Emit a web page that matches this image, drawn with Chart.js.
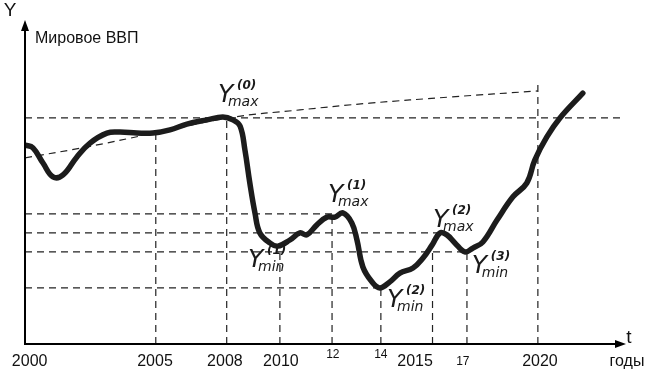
<!DOCTYPE html>
<html>
<head>
<meta charset="utf-8">
<script src="https://cdn.jsdelivr.net/npm/chart.js@4"></script>
<style>
html,body{margin:0;padding:0;background:#fff;}
#wrap{position:relative;width:646px;height:383px;}
</style>
</head>
<body>
<div id="wrap"><canvas id="c"></canvas></div>
<script>
// ---- data (x in years along the drawn time axis, y in relative GDP units 0..100) ----
const curveX = [2000.00,2000.31,2000.70,2001.09,2001.48,2002.02,2002.53,2003.19,2003.70,2004.36,2004.98,2005.64,2006.30,2007.08,2007.70,2008.09,2008.37,2008.56,2008.75,2008.95,2009.14,2009.53,2009.84,2010.31,2010.70,2010.97,2011.36,2011.75,2012.06,2012.37,2012.72,2012.92,2013.15,2013.50,2013.81,2014.20,2014.59,2015.10,2015.49,2015.84,2016.15,2016.42,2016.73,2017.12,2017.43,2017.82,2018.37,2018.99,2019.53,2019.84,2020.31,2020.82,2021.71];
const curveY = [61.8,60.9,56.2,51.9,52.5,58.1,62.4,65.5,65.8,65.5,65.5,66.5,68.3,69.6,70.5,69.6,67.7,60.2,50.0,40.7,34.5,31.4,30.4,32.3,34.5,33.9,37.0,39.4,39.4,40.7,37.6,32.3,23.9,19.3,17.4,19.3,22.0,23.6,26.7,30.7,34.5,33.9,31.4,28.6,29.8,31.7,38.5,45.7,50.0,57.1,64.3,70.2,77.9];

const trendX = [2000.00,2002.41,2004.86,2007.98,2010.70,2013.42,2016.54,2019.96];
const trendY = [57.8,61.2,65.2,70.3,72.7,74.8,76.7,78.6];

const levelY   = [70.2,40.4,34.5,28.6,17.4];
const levelEnd = [2023.30,2012.30,2016.10,2017.20,2013.85];

const dropX   = [2005.09,2007.85,2009.92,2011.95,2013.85,2015.86,2017.20,2019.96];
const dropTop = [66.1,70.2,30.4,40.4,17.4,29.2,28.6,80.7];

const tickPos    = [2000.18,2005.06,2007.78,2009.96,2011.98,2013.85,2015.18,2017.04,2020.04];
const tickLabels = ['2000','2005','2008','2010','12','14','2015','17','2020'];
const tickSmall  = [false,false,false,false,true,true,false,true,false];
const tickRaised = [false,false,false,false,true,true,false,false,false];

const extremaSub  = ['max','max','min','max','min','min'];
const extremaSup  = ['(0)','(1)','(1)','(2)','(2)','(3)'];
const extremaX    = [2007.51,2011.79,2008.68,2015.88,2014.09,2017.39];
const extremaY    = [75.2,44.1,23.9,36.3,11.5,22.0];

const yAxisTitle = 'Y';
const yAxisName  = 'Мировое ВВП';
const xAxisTitle = 't';
const xAxisUnit  = 'годы';

// ---- datasets ----
const ink = '#1c1c1c';
const dashStyle = {borderColor:'#222', borderWidth:1.2, borderDash:[7,5], pointRadius:0, fill:false, tension:0};
const datasets = [];
datasets.push({label:'ВВП', data: curveX.map((x,i)=>({x, y: curveY[i]})), borderColor: ink, borderWidth: 5.5, pointRadius:0, tension:0.4, borderCapStyle:'round', borderJoinStyle:'round', fill:false});
datasets.push(Object.assign({label:'trend', data: trendX.map((x,i)=>({x, y: trendY[i]}))}, dashStyle, {tension:0.4}));
levelY.forEach((v,i)=>datasets.push(Object.assign({label:'lvl'+i, data:[{x:2000,y:v},{x:levelEnd[i],y:v}]}, dashStyle)));
dropX.forEach((x,i)=>datasets.push(Object.assign({label:'drop'+i, data:[{x,y:0},{x,y:dropTop[i]}]}, dashStyle)));

const overlay = {
  id:'overlay',
  afterDraw(chart){
    const ctx = chart.ctx, xs = chart.scales.x, ys = chart.scales.y;
    const x0 = xs.getPixelForValue(2000), y0 = ys.getPixelForValue(0);
    const yTop = ys.getPixelForValue(100), xEnd = xs.right;
    ctx.save();
    ctx.strokeStyle = '#000'; ctx.fillStyle = '#000'; ctx.lineWidth = 2;
    // y axis with arrow
    ctx.beginPath(); ctx.moveTo(x0, y0+1); ctx.lineTo(x0, yTop+8); ctx.stroke();
    ctx.beginPath(); ctx.moveTo(x0, yTop-2); ctx.lineTo(x0-4, yTop+9); ctx.lineTo(x0+4, yTop+9); ctx.closePath(); ctx.fill();
    // x axis with arrow
    ctx.beginPath(); ctx.moveTo(x0-1, y0); ctx.lineTo(xEnd-8, y0); ctx.stroke();
    ctx.beginPath(); ctx.moveTo(xEnd, y0); ctx.lineTo(xEnd-11, y0-4); ctx.lineTo(xEnd-11, y0+4); ctx.closePath(); ctx.fill();
    // tick labels
    ctx.fillStyle = '#111'; ctx.textAlign = 'center'; ctx.textBaseline = 'middle';
    tickPos.forEach((p,i)=>{
      ctx.font = (tickSmall[i] ? '12px' : '16px') + ' "Liberation Sans", Arial, sans-serif';
      ctx.fillText(tickLabels[i], xs.getPixelForValue(p), y0 + (tickRaised[i] ? 11 : 18));
    });
    ctx.font = '16px "Liberation Sans", Arial, sans-serif';
    ctx.fillText(xAxisUnit, xEnd + 1, y0 + 18);
    ctx.font = '19px "Liberation Sans", Arial, sans-serif';
    ctx.fillText(xAxisTitle, xEnd + 3, y0 - 6);
    ctx.fillText(yAxisTitle, x0 - 15, yTop - 11);
    ctx.textAlign = 'left';
    ctx.font = '16px "Liberation Sans", Arial, sans-serif';
    ctx.fillText(yAxisName, x0 + 10, yTop + 17);
    // extrema labels
    ctx.fillStyle = '#1a1a1a'; ctx.textBaseline = 'alphabetic';
    extremaX.forEach((ex,i)=>{
      const px = xs.getPixelForValue(ex), py = ys.getPixelForValue(extremaY[i]);
      ctx.font = 'italic 25px "DejaVu Sans", sans-serif';
      ctx.fillText('Y', px, py);
      ctx.font = 'italic 14px "DejaVu Sans", sans-serif';
      ctx.fillText(extremaSub[i], px + 10, py + 4);
      ctx.font = 'italic bold 12px "DejaVu Sans", sans-serif';
      ctx.fillText(extremaSup[i], px + 19, py - 13);
    });
    ctx.restore();
  }
};

new Chart(document.getElementById('c'), {
  type:'line',
  data:{datasets},
  options:{
    responsive:true, maintainAspectRatio:false, animation:false,
    layout:{padding:{left:25, right:20, top:22, bottom:39}},
    plugins:{legend:{display:false}, tooltip:{enabled:false}},
    scales:{
      x:{type:'linear', min:2000, max:2023.39, display:false},
      y:{type:'linear', min:0, max:100, display:false}
    }
  },
  plugins:[overlay]
});
</script>
</body>
</html>
